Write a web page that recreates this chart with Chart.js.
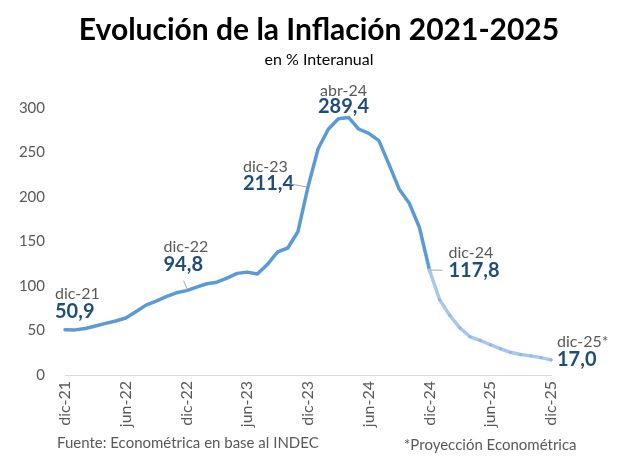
<!DOCTYPE html>
<html>
<head>
<meta charset="utf-8">
<script src="https://cdn.jsdelivr.net/npm/chart.js@4.4.1/dist/chart.umd.min.js"></script>
<style>
  html, body { margin: 0; padding: 0; background: #fff; }
  #wrap { width: 625px; height: 467px; position: relative; }
</style>
</head>
<body>
<div id="wrap"><canvas id="c" width="625" height="467"></canvas></div>
<script>
/* Evolución de la inflación interanual, dic-21 .. dic-25 (2025 = proyección) */

const BLUE = "#5B9BD5";
const BLUE_LIGHT = "#A7C8EA";
const NAVY = "#1F4E79";
const GREY = "#595959";
const FONT = "Lato, 'Open Sans', sans-serif";

const MONTHS = ["ene", "feb", "mar", "abr", "may", "jun", "jul", "ago", "sep", "oct", "nov", "dic"];
const labels = ["dic-21"];
for (let y = 22; y <= 25; y++) MONTHS.forEach(m => labels.push(m + "-" + y));

// valores interanuales (%), últimos 12 = proyección
const inflation = [
  50.9,
  50.7, 52.3, 55.1, 58.0, 60.7, 64.0, 71.0, 78.5, 83.0, 88.0, 92.4, 94.8,
  98.8, 102.5, 104.3, 108.8, 114.2, 115.6, 113.4, 124.4, 138.3, 142.7, 160.9, 211.4,
  254.2, 276.2, 287.9, 289.4, 276.4, 271.5, 263.4, 236.7, 209.0, 193.0, 166.0, 117.8,
  84.5, 67.0, 53.0, 43.0, 39.0, 34.0, 29.5, 25.5, 23.0, 21.5, 19.5, 17.0
];
const firstProjected = 37; // ene-25

const yTicks = [0, 50, 100, 150, 200, 250, 300];

// puntos destacados: índice, etiqueta
const callouts = [
  { i: 0, tag: "dic-21" },
  { i: 12, tag: "dic-22" },
  { i: 24, tag: "dic-23" },
  { i: 28, tag: "abr-24" },
  { i: 36, tag: "dic-24" },
  { i: 48, tag: "dic-25*" },
];

function fmt(v) { return v.toFixed(1).replace(".", ","); }

const textPlugin = {
  id: "texts",
  afterDraw(chart) {
    const ctx = chart.ctx;
    const xs = chart.scales.x, ys = chart.scales.y;
    ctx.save();
    // títulos
    ctx.textAlign = "center";
    ctx.textBaseline = "middle";
    ctx.fillStyle = "#000";
    ctx.font = "bold 30px " + FONT;
    ctx.fillText("Evolución de la Inflación 2021-2025", 319, 30);
    ctx.font = "16px " + FONT;
    ctx.fillText("en % Interanual", 319, 60);
    // notas al pie
    ctx.fillStyle = GREY;
    ctx.font = "15px " + FONT;
    ctx.textAlign = "left";
    ctx.fillText("Fuente: Econométrica en base al INDEC", 57, 443);
    ctx.fillText("*Proyección Econométrica", 404, 445);

    // etiquetas de datos
    const place = {
      "dic-21": { dx: -10, dy1: -36, dy2: -18, align: "left" },
      "dic-22": { dx: -23, dy1: -44, dy2: -26, align: "left", lead: [-3, -10, 1, -1] },
      "dic-23": { dx: -65, dy1: -20, dy2: -3, align: "left", lead: [-18, -3, -2, 0] },
      "abr-24": { dx: -5, dy1: -27, dy2: -11, align: "center" },
      "dic-24": { dx: 19, dy1: -17, dy2: 0, align: "left", lead: [1, 0, 13, 0] },
      "dic-25*": { dx: 6, dy1: -18, dy2: 0, align: "left" },
    };
    callouts.forEach(c => {
      const px = xs.getPixelForValue(c.i);
      const py = ys.getPixelForValue(inflation[c.i]);
      const p = place[c.tag];
      ctx.textAlign = p.align;
      ctx.fillStyle = GREY;
      ctx.font = "16px " + FONT;
      ctx.fillText(c.tag, px + p.dx, py + p.dy1);
      ctx.fillStyle = NAVY;
      ctx.font = "bold 20px " + FONT;
      ctx.fillText(fmt(inflation[c.i]), px + p.dx, py + p.dy2);
      if (p.lead) {
        ctx.strokeStyle = "#A6A6A6";
        ctx.lineWidth = 1;
        ctx.beginPath();
        ctx.moveTo(px + p.lead[0], py + p.lead[1]);
        ctx.lineTo(px + p.lead[2], py + p.lead[3]);
        ctx.stroke();
      }
    });
    ctx.restore();
  }
};

new Chart(document.getElementById("c"), {
  type: "line",
  data: {
    labels,
    datasets: [{
      data: inflation,
      borderColor: BLUE,
      borderWidth: 3.5,
      tension: 0,
      borderCapStyle: "round",
      borderJoinStyle: "round",
      pointRadius: ctx => (ctx.dataIndex >= firstProjected ? 1.6 : 0),
      pointBackgroundColor: "#8DB8E3",
      pointBorderWidth: 0,
      segment: {
        borderColor: s => (s.p1DataIndex >= firstProjected ? BLUE_LIGHT : BLUE),
      },
      fill: false,
    }],
  },
  options: {
    responsive: false,
    animation: false,
    layout: { padding: { top: 108, right: 74, left: 0, bottom: 0 } },
    plugins: { legend: { display: false }, tooltip: { enabled: false }, title: { display: false } },
    scales: {
      x: {
        offset: false,
        grid: { display: false, drawTicks: false },
        border: { display: true, color: "#D9D9D9", width: 1 },
        ticks: {
          autoSkip: false,
          maxRotation: 90, minRotation: 90,
          padding: 6,
          color: GREY,
          font: { family: FONT, size: 16 },
          callback: (v, i) => (i % 6 === 0 ? labels[i] : null),
        },
        afterFit: s => { s.height = 92; },
      },
      y: {
        min: 0, max: 300,
        afterBuildTicks: s => { s.ticks = yTicks.map(v => ({ value: v })); },
        grid: { display: false, drawTicks: false },
        border: { display: false },
        ticks: { padding: 20, color: GREY, font: { family: FONT, size: 15 } },
        afterFit: s => { s.width = 65; },
      },
    },
  },
  plugins: [textPlugin],
});
</script>
</body>
</html>
